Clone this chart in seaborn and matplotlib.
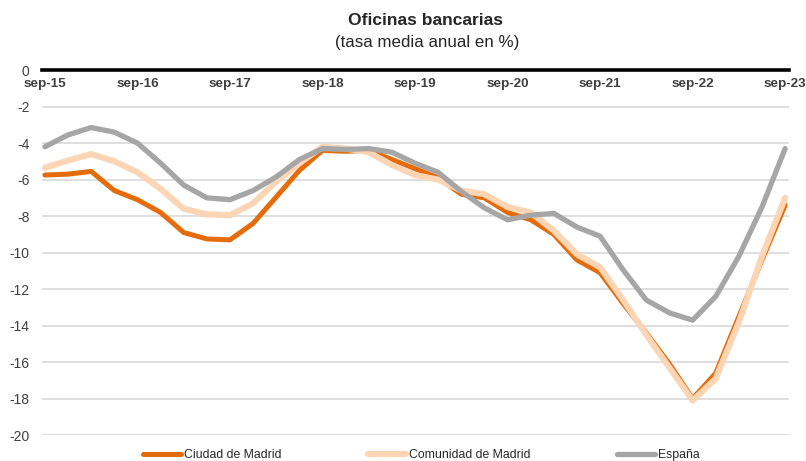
"""
Oficinas bancarias - tasa media anual (%)
"""

import pandas as pd
import matplotlib.pyplot as plt
import seaborn as sns
import numpy as np

sns.set_style("white")
plt.rcParams['font.family'] = ['Liberation Sans', 'DejaVu Sans']

# quarterly values, sep-15 .. sep-23
quarters = np.arange(33)
tick_pos = list(range(0, 33, 4))
tick_labels = ['sep-15', 'sep-16', 'sep-17', 'sep-18', 'sep-19',
               'sep-20', 'sep-21', 'sep-22', 'sep-23']

ciudad = [-5.75, -5.7, -5.55, -6.6, -7.1, -7.8, -8.9, -9.25, -9.3, -8.4,
          -6.95, -5.5, -4.4, -4.45, -4.4, -4.9, -5.4, -5.9, -6.8, -7.0,
          -7.8, -8.2, -9.0, -10.4, -11.1, -12.8, -14.4, -16.1, -18.0, -16.6,
          -13.5, -10.4, -7.4]
comunidad = [-5.35, -4.95, -4.6, -5.0, -5.6, -6.5, -7.6, -7.9, -7.95, -7.3,
             -6.1, -5.1, -4.2, -4.3, -4.5, -5.2, -5.75, -6.0, -6.6, -6.8,
             -7.5, -7.8, -8.8, -10.1, -10.8, -12.6, -14.5, -16.3, -18.1, -16.9,
             -13.8, -10.2, -7.0]
espana = [-4.2, -3.55, -3.15, -3.4, -4.0, -5.1, -6.3, -7.0, -7.1, -6.6,
          -5.85, -4.9, -4.3, -4.35, -4.3, -4.5, -5.1, -5.6, -6.65, -7.55,
          -8.2, -7.95, -7.85, -8.6, -9.1, -10.95, -12.6, -13.3, -13.7, -12.4,
          -10.2, -7.5, -4.3]

series_names = ['Ciudad de Madrid', 'Comunidad de Madrid', 'España']
colors = {'Ciudad de Madrid': '#E46C0A',
          'Comunidad de Madrid': '#FCD5B5',
          'España': '#A6A6A6'}
widths = {'Ciudad de Madrid': 3.6, 'Comunidad de Madrid': 4.4, 'España': 3.8}

df = pd.DataFrame({
    'q': np.tile(quarters, 3),
    'valor': ciudad + comunidad + espana,
    'serie': np.repeat(series_names, len(quarters)),
})

fig = plt.figure(figsize=(8.06, 4.61), dpi=100)
ax = fig.add_axes([0.052, 0.056, 0.927, 0.792])

for name in series_names:
    sub = df[df['serie'] == name]
    sns.lineplot(data=sub, x='q', y='valor', ax=ax, color=colors[name],
                 linewidth=widths[name], label=name,
                 solid_joinstyle='round', solid_capstyle='round')

# x axis sits on the zero line (set before styling ticks: it resets them)
for s in ['left', 'right', 'top']:
    ax.spines[s].set_visible(False)
ax.spines['bottom'].set_position(('data', 0))
ax.spines['bottom'].set_color('black')
ax.spines['bottom'].set_linewidth(2.6)
ax.spines['bottom'].set_zorder(5)

ax.set_xlim(-0.13, 32.17)
ax.set_ylim(-20, 0)
ax.set_yticks(range(-20, 1, 2))
ax.set_yticklabels([str(v) for v in range(-20, 1, 2)], fontsize=10, color='#404040')
ax.set_xticks(tick_pos)
ax.set_xticklabels(tick_labels, fontsize=9.7, fontweight='bold', color='#404040')
ax.tick_params(axis='both', length=0)
ax.tick_params(axis='y', pad=9)
ax.tick_params(axis='x', pad=6)
ax.set_xlabel('')
ax.set_ylabel('')

# grid lines (0 is the axis itself)
for v in range(-20, 0, 2):
    ax.axhline(v, color='#D9D9D9', linewidth=1.2, zorder=0)

fig.text(0.528, 0.955, 'Oficinas bancarias', ha='center', va='center',
         fontsize=12.6, fontweight='bold', color='#262626')
fig.text(0.53, 0.908, '(tasa media anual en %)', ha='center', va='center',
         fontsize=12.2, color='#262626')

handles, labels = ax.get_legend_handles_labels()
ax.get_legend().remove()
leg = fig.legend(handles, labels, loc='center', bbox_to_anchor=(0.523, 0.013),
                 ncol=3, frameon=False, handlelength=3.1, handletextpad=0.25,
                 columnspacing=7.1, fontsize=8.8)
for t in leg.get_texts():
    t.set_color('#262626')

plt.savefig('out.png', dpi=100)
plt.close()
